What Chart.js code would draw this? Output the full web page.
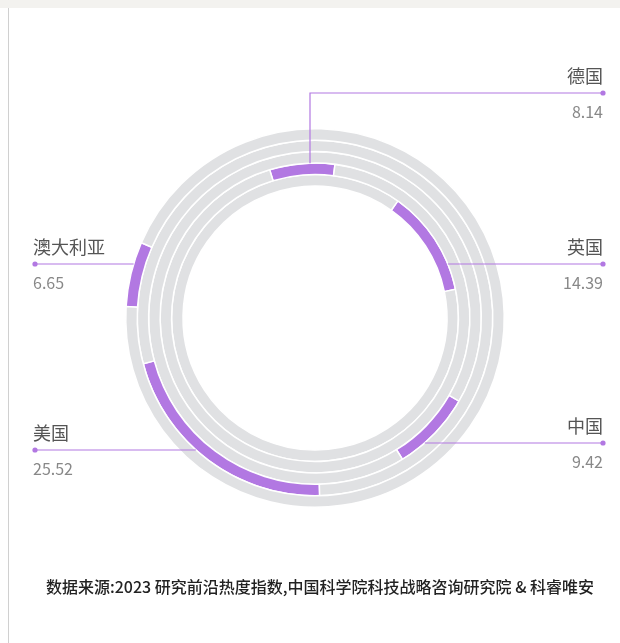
<!DOCTYPE html>
<html lang="zh">
<head>
<meta charset="utf-8">
<script src="https://cdn.jsdelivr.net/npm/chart.js@4.4.1/dist/chart.umd.min.js"></script>
<style>
  html, body { margin: 0; padding: 0; background: #fff; }
  body { width: 620px; height: 643px; position: relative; overflow: hidden;
         font-family: "Noto Sans CJK SC", "Noto Sans", sans-serif; }
  .topbar { position: absolute; left: 0; top: 0; width: 620px; height: 8px; background: #f3f2ef; }
  .leftline { position: absolute; left: 8px; top: 8px; width: 1px; height: 635px; background: #d0d0d0; }
  #wrap { position: absolute; left: 0; top: 0; width: 620px; height: 643px; }
  .lbl { position: absolute; font-size: 18px; color: #555; line-height: 20px; white-space: nowrap; }
  .val { position: absolute; font-size: 16px; color: #888; line-height: 20px; white-space: nowrap; }
  .src { position: absolute; left: 10px; width: 620px; top: 576px; text-align: center;
         font-size: 16px; line-height: 20px; color: #222; font-weight: 500; }
</style>
</head>
<body>
<div class="topbar"></div>
<div class="leftline"></div>
<div id="wrap"><canvas id="chart" width="620" height="643"></canvas></div>
<div class="src">数据来源:2023 研究前沿热度指数,中国科学院科技战略咨询研究院 &amp; 科睿唯安</div>

<script>
// 数据
const countries = ["德国", "英国", "中国", "美国", "澳大利亚"];
const values = [8.14, 14.39, 9.42, 25.52, 6.65];
const scaleMax = 120;

// 圆环从外到内
const ringOrder = ["澳大利亚", "美国", "中国", "德国", "英国"];
// 每个环的起始角度 (度, 顺时针, 0 = 顶部)
const ringRotation = { "德国": -17, "英国": 35.3, "中国": 120, "美国": 178.5, "澳大利亚": 273.5 };

const purple = "#b278e2";
const track = "#e0e1e3";

// 标签位置
const labelLayout = {
  "德国":     { side: "right", y: 93, elbowX: 310 },
  "英国":     { side: "right", y: 264 },
  "中国":     { side: "right", y: 443 },
  "美国":     { side: "left",  y: 450 },
  "澳大利亚": { side: "left",  y: 264 }
};
const rightX = 603, leftX = 35;

const datasets = ringOrder.map(name => {
  const v = values[countries.indexOf(name)];
  return {
    label: name,
    data: [v, scaleMax - v],
    backgroundColor: [purple, track],
    borderColor: "#fff",
    borderWidth: 1.5,
    rotation: ringRotation[name]
  };
});

// 引线
const leaders = {
  id: "leaders",
  afterDatasetsDraw(chart) {
    const ctx = chart.ctx;
    ctx.save();
    ctx.strokeStyle = purple;
    ctx.fillStyle = purple;
    ctx.lineWidth = 1.2;
    ringOrder.forEach((name, i) => {
      const arc = chart.getDatasetMeta(i).data[0];
      const { x: cx, y: cy, outerRadius: R } = arc.getProps(["x", "y", "outerRadius"], true);
      const L = labelLayout[name];
      ctx.beginPath();
      if (L.elbowX !== undefined) {
        const yTop = cy - Math.sqrt(R * R - Math.pow(L.elbowX - cx, 2));
        ctx.moveTo(L.elbowX, yTop);
        ctx.lineTo(L.elbowX, L.y);
        ctx.lineTo(rightX, L.y);
      } else {
        const dx = Math.sqrt(Math.max(R * R - Math.pow(L.y - cy, 2), 0));
        const x0 = L.side === "right" ? cx + dx : cx - dx;
        ctx.moveTo(x0, L.y);
        ctx.lineTo(L.side === "right" ? rightX : leftX, L.y);
      }
      ctx.stroke();
      ctx.beginPath();
      ctx.arc(L.side === "right" ? rightX : leftX, L.y, 2.6, 0, Math.PI * 2);
      ctx.fill();
    });
    ctx.restore();
  }
};

new Chart(document.getElementById("chart"), {
  type: "doughnut",
  data: { labels: ["value", "rest"], datasets: datasets },
  options: {
    responsive: false,
    animation: false,
    events: [],
    cutout: 132,
    layout: { padding: { left: 125, right: 115, top: 128, bottom: 135 } },
    plugins: { legend: { display: false }, tooltip: { enabled: false } }
  },
  plugins: [leaders]
});

// 文字标签
countries.forEach((name, i) => {
  const L = labelLayout[name];
  const lbl = document.createElement("div");
  lbl.className = "lbl";
  lbl.textContent = name;
  const val = document.createElement("div");
  val.className = "val";
  val.textContent = values[i].toFixed(2);
  lbl.style.top = (L.y - 28) + "px";
  val.style.top = (L.y + 8) + "px";
  if (L.side === "right") {
    lbl.style.right = (620 - rightX) + "px";
    val.style.right = (620 - rightX) + "px";
  } else {
    lbl.style.left = leftX - 2 + "px";
    val.style.left = leftX - 2 + "px";
  }
  document.body.appendChild(lbl);
  document.body.appendChild(val);
});
</script>
</body>
</html>
